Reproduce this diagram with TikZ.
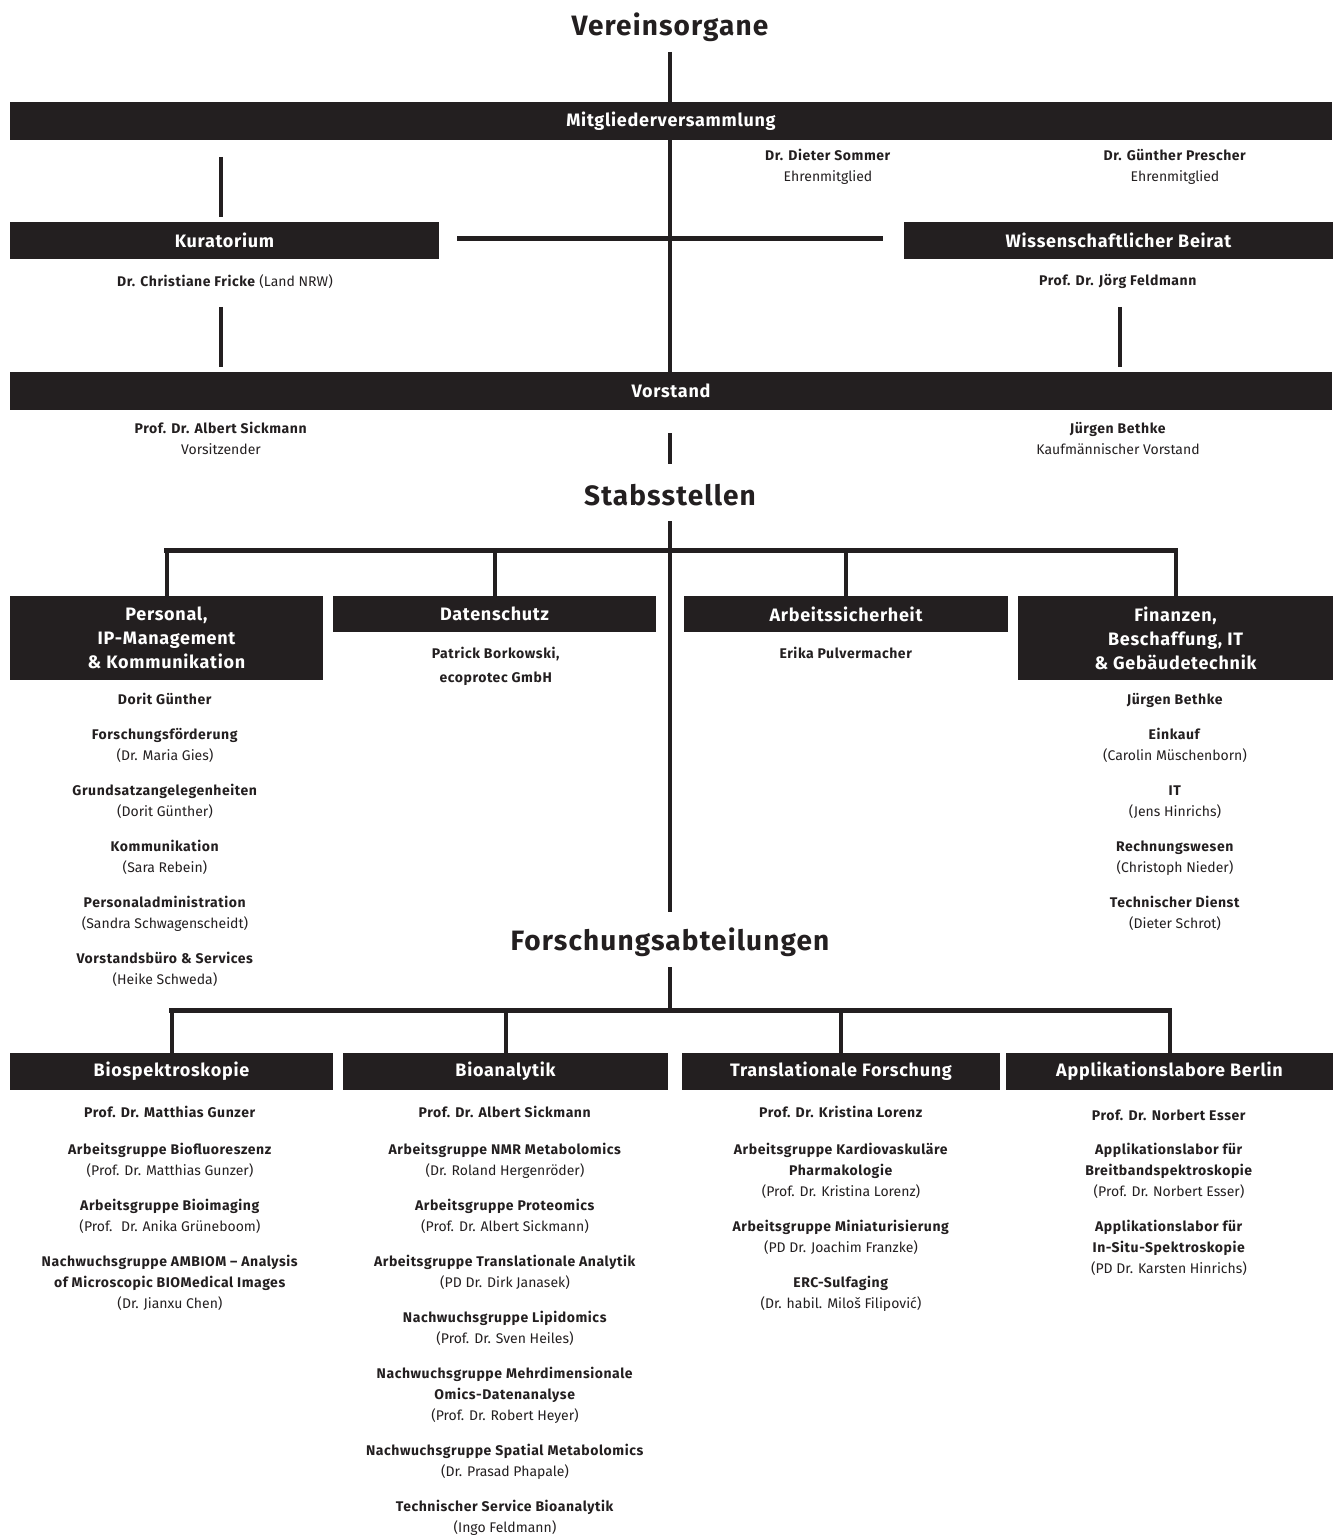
\documentclass[tikz,border=0pt]{standalone}
\usepackage{fontspec}
\setmainfont{Fira Sans}[BoldFeatures={LetterSpace=4}]
\usetikzlibrary{calc}
\definecolor{balken}{HTML}{231F20}
\tikzset{
	box/.style={fill=balken, text=white, font=\fontsize{9}{12}\selectfont\bfseries, inner sep=0pt, align=center},
	titel/.style={text=balken, font=\fontsize{14}{16}\selectfont\bfseries, inner sep=0pt},
	info/.style={text=balken, font=\fontsize{7}{10.5}\selectfont, inner sep=0pt, align=center, anchor=north},
	strich/.style={draw=balken, line width=2pt},
	querbalken/.style={draw=balken, line width=2.5pt, line cap=rect},
}
\begin{document}
\begin{tikzpicture}[x=0.5pt, y=-0.5pt]
	\useasboundingbox (0,0) rectangle (1340,1535);
	% Ueberschriften
	\node[titel] (t1) at (670,27) {Vereinsorgane};
	\node[titel] (t2) at (670,495) {Stabsstellen};
	\node[titel] (t3) at (670,942) {Forschungsabteilungen};

	% Hilfspunkte fuer Linien
	\coordinate (o1) at (670,52);
	\coordinate (k1) at (221,157);
	\coordinate (k2) at (221,307);
	\coordinate (w1) at (1120,307);
	\coordinate (v1) at (670,433);
	\coordinate (v2) at (670,464);
	\coordinate (s1) at (670,521);
	\coordinate (s2) at (670,550);
	\coordinate (f0) at (670,912);
	\coordinate (f1) at (670,967);
	\coordinate (f2) at (670,1010);

	% Vereinsorgane
	\node[box, minimum width=661pt, minimum height=19pt] (mv) at (671,121) {};
	\node[box, minimum width=661pt, minimum height=19pt] (vor) at (671,391) {};
	\draw[strich] (o1) -- (o1 |- vor.north);
	\node[box, minimum width=661pt, minimum height=19pt] at (mv) {Mitgliederversammlung};
	\node[box, minimum width=214.5pt, minimum height=18.5pt] (kura) at (224.5,240.5) {Kuratorium};
	\node[box, minimum width=214.5pt, minimum height=18.5pt] (beirat) at (1118.5,240.5) {Wissenschaftlicher Beirat};
	\node[box, minimum width=661pt, minimum height=19pt] at (vor) {Vorstand};
	\draw[strich, shorten >=2.5pt] (k1) -- (k1 |- kura.north);
	\draw[strich, shorten >=2.5pt] (k2) -- (k2 |- vor.north);
	\draw[strich, shorten >=2.5pt] (w1) -- (w1 |- vor.north);
	\draw[querbalken, line cap=butt] ($(kura.east)+(18,-2)$) -- ($(beirat.west)+(-21,-2)$);

	\node[info] (som) at (828,149) {\textbf{Dr. Dieter Sommer}\\Ehrenmitglied};
	\node[info] (pre) at (1175,149) {\textbf{Dr. Günther Prescher}\\Ehrenmitglied};
	\node[info] (fri) at (225,274) {\textbf{Dr. Christiane Fricke} (Land NRW)};
	\node[info] (fel) at (1118,274) {\textbf{Prof. Dr. Jörg Feldmann}};
	\node[info] (sic) at (221,422) {\textbf{Prof. Dr. Albert Sickmann}\\Vorsitzender};
	\node[info] (bet) at (1118,422) {\textbf{Jürgen Bethke}\\Kaufmännischer Vorstand};

	% Stabsstellen
	\draw[strich] (v1) -- (v2);
	\draw[strich] (s1) -- (f0);
	\node[box, minimum width=156.5pt, minimum height=42pt] (pers) at (166.5,638) {Personal,\\IP-Management\\\&~Kommunikation};
	\node[box, minimum width=161.5pt, minimum height=18pt] (dat) at (494.5,614) {Datenschutz};
	\node[box, minimum width=162pt, minimum height=18pt] (arb) at (846,614) {Arbeitssicherheit};
	\node[box, minimum width=157.5pt, minimum height=42pt] (fin) at (1175.5,638) {Finanzen,\\Beschaffung, IT\\\&~Gebäudetechnik};
	\draw[querbalken] (s2 -| pers) -- (s2 -| fin);
	\foreach \n in {pers,dat,arb,fin}
		\draw[strich] (s2 -| \n) -- (\n.north);

	\node[info] (persinfo) at (165,693) {\textbf{Dorit Günther}\\[7pt]
		\textbf{Forschungsförderung}\\(Dr. Maria Gies)\\[7pt]
		\textbf{Grundsatzangelegenheiten}\\(Dorit Günther)\\[7pt]
		\textbf{Kommunikation}\\(Sara Rebein)\\[7pt]
		\textbf{Personaladministration}\\(Sandra Schwagenscheidt)\\[7pt]
		\textbf{Vorstandsbüro \& Services}\\(Heike Schweda)};
	\node[info] (datinfo) at (496,647) {\textbf{Patrick Borkowski,}\\[1.5pt]\textbf{ecoprotec GmbH}};
	\node[info] (arbinfo) at (846,647) {\textbf{Erika Pulvermacher}};
	\node[info] (fininfo) at (1175,693) {\textbf{Jürgen Bethke}\\[7pt]
		\textbf{Einkauf}\\(Carolin Müschenborn)\\[7pt]
		\textbf{IT}\\(Jens Hinrichs)\\[7pt]
		\textbf{Rechnungswesen}\\(Christoph Nieder)\\[7pt]
		\textbf{Technischer Dienst}\\(Dieter Schrot)};

	% Forschungsabteilungen
	\draw[strich] (f1) -- (f2);
	\node[box, minimum width=161.5pt, minimum height=18.5pt] (bio) at (171.5,1071.5) {Biospektroskopie};
	\node[box, minimum width=162.5pt, minimum height=18.5pt] (bioa) at (505.5,1071.5) {Bioanalytik};
	\node[box, minimum width=159pt, minimum height=18.5pt] (trans) at (841,1071.5) {Translationale Forschung};
	\node[box, minimum width=163.5pt, minimum height=18.5pt] (appl) at (1169.5,1071.5) {Applikationslabore Berlin};
	\draw[querbalken] (f2 -| bio) -- (f2 -| appl);
	\foreach \n in {bio,bioa,trans,appl}
		\draw[strich] (f2 -| \n) -- (\n.north);

	\node[info] (bioinfo) at (170,1106) {\textbf{Prof. Dr. Matthias Gunzer}\\[8pt]
		\textbf{Arbeitsgruppe Biofluoreszenz}\\(Prof. Dr. Matthias Gunzer)\\[7pt]
		\textbf{Arbeitsgruppe Bioimaging}\\(Prof.~ Dr. Anika Grüneboom)\\[7pt]
		\textbf{Nachwuchsgruppe AMBIOM – Analysis}\\\textbf{of Microscopic BIOMedical Images}\\(Dr. Jianxu Chen)};
	\node[info] (bioainfo) at (505,1106) {\textbf{Prof. Dr. Albert Sickmann}\\[8pt]
		\textbf{Arbeitsgruppe NMR Metabolomics}\\(Dr. Roland Hergenröder)\\[7pt]
		\textbf{Arbeitsgruppe Proteomics}\\(Prof. Dr. Albert Sickmann)\\[7pt]
		\textbf{Arbeitsgruppe Translationale Analytik}\\(PD Dr. Dirk Janasek)\\[7pt]
		\textbf{Nachwuchsgruppe Lipidomics}\\(Prof. Dr. Sven Heiles)\\[7pt]
		\textbf{Nachwuchsgruppe Mehrdimensionale}\\\textbf{Omics-Datenanalyse}\\(Prof. Dr. Robert Heyer)\\[7pt]
		\textbf{Nachwuchsgruppe Spatial Metabolomics}\\(Dr. Prasad Phapale)\\[7pt]
		\textbf{Technischer Service Bioanalytik}\\(Ingo Feldmann)};
	\node[info] (transinfo) at (841,1106) {\textbf{Prof. Dr. Kristina Lorenz}\\[8pt]
		\textbf{Arbeitsgruppe Kardiovaskuläre}\\\textbf{Pharmakologie}\\(Prof. Dr. Kristina Lorenz)\\[7pt]
		\textbf{Arbeitsgruppe Miniaturisierung}\\(PD Dr. Joachim Franzke)\\[7pt]
		\textbf{ERC-Sulfaging}\\(Dr. habil. Miloš Filipović)};
	\node[info] (applinfo) at (1169,1109) {\textbf{Prof. Dr. Norbert Esser}\\[6.5pt]
		\textbf{Applikationslabor für}\\\textbf{Breitbandspektroskopie}\\(Prof. Dr. Norbert Esser)\\[7pt]
		\textbf{Applikationslabor für}\\\textbf{In-Situ-Spektroskopie}\\(PD Dr. Karsten Hinrichs)};
\end{tikzpicture}
\end{document}
